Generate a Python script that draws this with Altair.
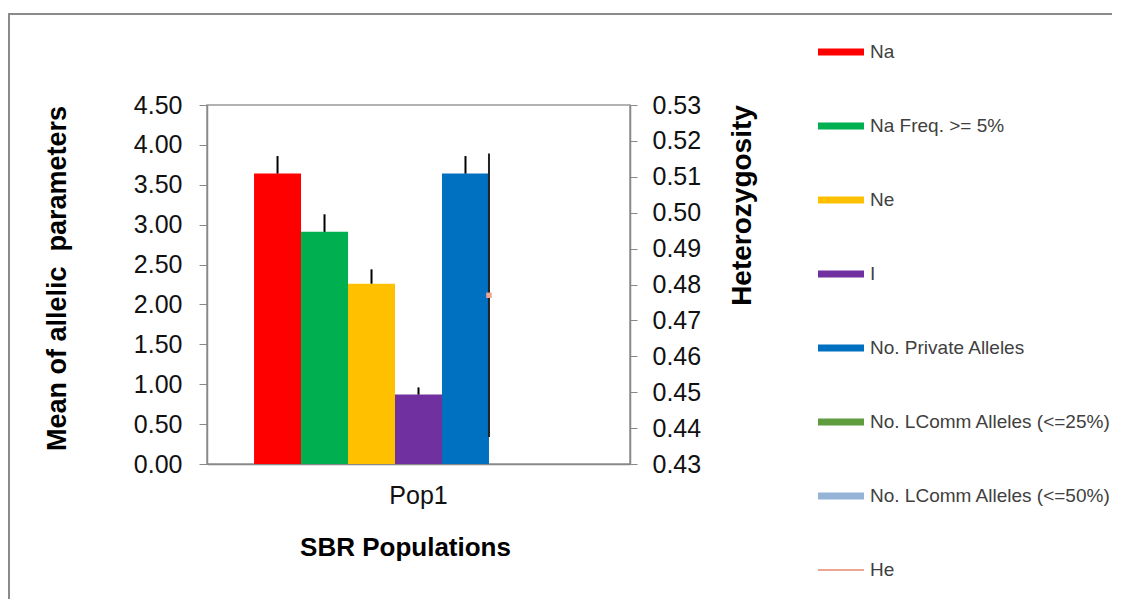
import altair as alt
import pandas as pd

# ---- data ----
population = "Pop1"
bar_series = ["Na", "Na Freq. >= 5%", "Ne", "I", "No. Private Alleles",
              "No. LComm Alleles (<=25%)", "No. LComm Alleles (<=50%)"]
bar_means = [3.64, 2.91, 2.26, 0.87, 3.64, 0.0, 0.0]
bar_se = [0.22, 0.22, 0.18, 0.09, 0.22, 0.0, 0.0]
he_series = "He"
he_mean = 0.477
he_se = 0.0395
all_series = bar_series + [he_series]
colors = ["#FF0000", "#00B050", "#FFC000", "#7030A0", "#0070C0",
          "#5E9C3E", "#95B3D7", "#EBA793"]
left_ticks = [0.0, 0.5, 1.0, 1.5, 2.0, 2.5, 3.0, 3.5, 4.0, 4.5]
right_ticks = [0.43, 0.44, 0.45, 0.46, 0.47, 0.48, 0.49, 0.50, 0.51, 0.52, 0.53]

bars_df = pd.DataFrame({"pop": population, "series": bar_series,
                        "value": bar_means, "err": bar_se})
he_df = pd.DataFrame({"pop": [population], "series": [he_series],
                      "he": [he_mean], "se": [he_se]})
legend_df = pd.DataFrame({"series": all_series})

FONT = "Liberation Sans"
W, H = 423, 359
BAR_SYM = "M-1,-0.15H1V0.15H-1Z"
LINE_SYM = "M-1,-0.04H1V0.04H-1Z"

color_scale = alt.Scale(domain=all_series, range=colors)
shape_scale = alt.Scale(domain=all_series, range=[BAR_SYM] * 7 + [LINE_SYM])
legend = alt.Legend(
    title=None, orient="none", legendX=611, legendY=-76,
    symbolSize=2116, symbolStrokeWidth=0, labelLimit=400,
    labelFont=FONT, labelFontSize=19, labelColor="#404040", labelOffset=6,
    rowPadding=41, symbolOpacity=1,
)

x_axis = alt.Axis(title="SBR Populations", labelAngle=0, tickSize=0,
                  labelFont=FONT, labelFontSize=25, labelColor="#111",
                  labelPadding=19, titleFont=FONT, titleFontSize=26,
                  titleFontWeight="bold", titlePadding=26, titleX=198,
                  domainColor="#888", domainWidth=1.5)
x_scale = alt.Scale(paddingOuter=0.143, paddingInner=0)
x_enc = alt.X("pop:N", scale=x_scale, axis=x_axis)

y_left = alt.Y("value:Q", scale=alt.Scale(domain=[0, 4.5], nice=False),
               axis=alt.Axis(title="Mean of allelic\u00a0 parameters", values=left_ticks,
                             format=".2f", grid=False, tickSize=8, tickColor="#888",
                             domainColor="#888", domainWidth=1.5,
                             labelFont=FONT, labelFontSize=25, labelColor="#111",
                             labelPadding=17, titleFont=FONT, titleFontSize=27,
                             titleFontWeight="bold", titleX=-150, titleY=173,
                             titleAngle=270, titleBaseline="middle"))

border = alt.Chart(alt.Data(values=[{"k": 1}])).mark_rect(
    fill="white", fillOpacity=0, stroke="#8a8a8a", strokeWidth=2
).encode(x=alt.value(-198), x2=alt.value(1000), y=alt.value(-91), y2=alt.value(700))

xoff = alt.XOffset("series:N", scale=alt.Scale(domain=bar_series,
                                               paddingInner=0, paddingOuter=0))
bars = alt.Chart(bars_df).mark_bar(strokeWidth=0).encode(
    x=x_enc,
    xOffset=xoff,
    y=y_left,
    color=alt.Color("series:N", scale=color_scale, legend=legend),
)
errs = alt.Chart(bars_df).transform_filter("datum.err > 0").transform_calculate(
    upper="datum.value + datum.err"
).mark_rule(color="black", strokeWidth=2).encode(
    x=x_enc,
    xOffset=xoff,
    y=y_left,
    y2="upper:Q",
)
left = alt.layer(bars, errs)

y_right_scale = alt.Scale(domain=[0.43, 0.53], nice=False, zero=False)
y_right_axis = alt.Axis(title="Heterozygosity", orient="right", values=right_ticks,
                        format=".2f", grid=False, tickSize=7, tickColor="#888",
                        domainColor="#888", domainWidth=1.5,
                        labelFont=FONT, labelFontSize=25, labelColor="#111",
                        labelPadding=15, titleFont=FONT, titleFontSize=28,
                        titleFontWeight="bold", titleX=112, titleY=100,
                        titleAngle=270, titleBaseline="middle")
he_x = alt.X("pop:N", scale=x_scale, axis=x_axis, bandPosition=5 / 7)
he_rule = alt.Chart(he_df).transform_calculate(
    lo="datum.he - datum.se", hi="datum.he + datum.se"
).mark_rule(color="#222", strokeWidth=2).encode(
    x=he_x,
    y=alt.Y("lo:Q", scale=y_right_scale, axis=y_right_axis),
    y2="hi:Q",
)
he_pt = alt.Chart(he_df).mark_square(size=30, opacity=1, filled=True).encode(
    x=he_x,
    y=alt.Y("he:Q", scale=y_right_scale, axis=y_right_axis),
    color=alt.Color("series:N", scale=color_scale, legend=legend),
)
legend_keys = alt.Chart(legend_df).mark_point(opacity=0, filled=True).encode(
    color=alt.Color("series:N", scale=color_scale, legend=legend),
    shape=alt.Shape("series:N", scale=shape_scale, legend=legend),
)
right = alt.layer(he_rule, he_pt)

chart = alt.layer(border, left, right, legend_keys).resolve_scale(y="independent").properties(
    width=W, height=H,
    autosize=alt.AutoSizeParams(type="none"),
    padding={"left": 199, "top": 97, "right": 482, "bottom": 135},
    background="white",
).configure_view(stroke="#999", strokeWidth=1.5)

chart.save("out.html", embed_options={"renderer": "svg", "actions": False})
